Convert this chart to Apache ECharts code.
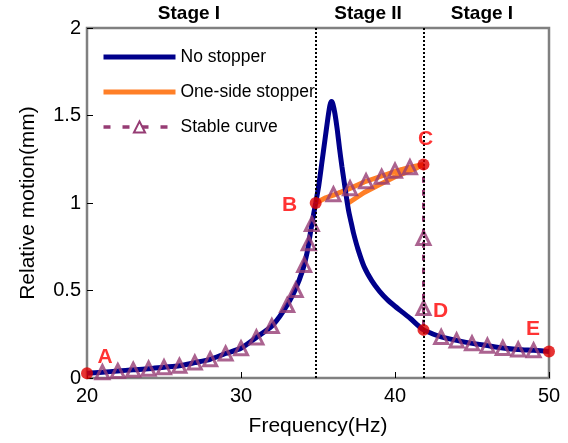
<!DOCTYPE html>
<html>
<head>
<meta charset="utf-8">
<script src="https://cdn.jsdelivr.net/npm/echarts@6/dist/echarts.min.js"></script>
<style>
  html, body { margin: 0; padding: 0; background: #fff; }
  #chart { width: 568px; height: 443px; }
</style>
</head>
<body>
<div id="chart"></div>
<script>
// Response without stopper (linear system)
const noStopperFreq = [20, 21, 22, 23, 24, 25, 26, 27, 28, 29, 30, 31, 32, 32.5, 33, 33.5, 34, 34.3, 34.6, 34.85,
  35.05, 35.25, 35.45, 35.65, 35.78, 35.88, 35.97, 36.1, 36.25, 36.4, 36.55, 36.7, 36.85, 37.0, 37.15, 37.3,
  37.6, 38, 38.5, 39, 39.5, 40, 40.5, 41, 41.5, 41.85, 42.5, 43, 44, 45, 46, 47, 48, 49, 50];
const noStopperAmp = [0.027, 0.033, 0.040, 0.047, 0.053, 0.062, 0.070, 0.088, 0.107, 0.140, 0.170, 0.232, 0.297, 0.35, 0.417, 0.50, 0.615, 0.72, 0.88, 1.0,
  1.10, 1.23, 1.36, 1.49, 1.56, 1.58, 1.565, 1.51, 1.42, 1.31, 1.21, 1.12, 1.03, 0.95, 0.89, 0.83,
  0.735, 0.635, 0.555, 0.495, 0.448, 0.41, 0.375, 0.34, 0.30, 0.275, 0.25, 0.235, 0.215, 0.198, 0.185, 0.172, 0.163, 0.158, 0.152];

// One-side stopper: upper branch B -> C, then the lower branch turning back
const stopperFreq = [34.85, 35.5, 36, 37, 38, 39, 40, 41, 41.85, 41.5, 41, 40, 39, 38, 36.97];
const stopperAmp  = [1.0, 1.03, 1.045, 1.08, 1.12, 1.15, 1.18, 1.205, 1.22, 1.205, 1.185, 1.15, 1.105, 1.06, 1.0];

// Stable curve A -> B -> C -> D -> E
const stableFreq = [20, 21, 22, 23, 24, 25, 26, 27, 28, 29, 30, 31, 32, 33, 33.55, 34.1, 34.4, 34.6, 34.85,
  36, 37.08, 38.12, 39.13, 40, 40.97, 41.85, 41.85, 41.85, 41.85, 43, 44, 45, 46, 47, 48, 49, 50];
const stableAmp = [0.027, 0.033, 0.040, 0.047, 0.053, 0.062, 0.070, 0.088, 0.107, 0.140, 0.170, 0.232, 0.297, 0.417, 0.503, 0.646, 0.77, 0.88, 1.0,
  1.05, 1.085, 1.125, 1.15, 1.185, 1.205, 1.22, 0.80, 0.40, 0.275, 0.235, 0.215, 0.198, 0.185, 0.172, 0.163, 0.158, 0.152];

// Characteristic points
const keyNames = ['A', 'B', 'C', 'D', 'E'];
const keyFreq  = [20, 34.85, 41.85, 41.85, 50];
const keyAmp   = [0.027, 1.0, 1.22, 0.275, 0.152];

// Stage boundaries (Hz)
const stageBounds = [34.85, 41.85];
const stageLabels = ['Stage I', 'Stage II', 'Stage I'];

// Axis ticks
const xTicks = { min: 20, max: 50, interval: 10 };
const yTicks = { min: 0, max: 2, interval: 0.5 };

const FONT = '"Liberation Sans", Arial, sans-serif';
const NAVY = '#00008B';
const ORANGE = '#FF7F27';
const PURPLE = '#963C74';
const RED = '#E00000';

const zip = (xs, ys) => xs.map((x, i) => [x, ys[i]]);
const noStopperData = zip(noStopperFreq, noStopperAmp);
const stopperData = zip(stopperFreq, stopperAmp);
const stableData = zip(stableFreq, stableAmp);

// letters sit beside their markers
const labelOffsets = { A: [18, -16], B: [-26, 2], C: [2, -25], D: [17, -19], E: [-16, -22] };
const keyData = keyNames.map((n, i) => ({
  name: n, value: [keyFreq[i], keyAmp[i]],
  label: { offset: labelOffsets[n] }
}));

// triangles are drawn everywhere except on the labelled points
const isKey = p => keyFreq.some((f, i) => f === p[0] && keyAmp[i] === p[1]);
const triangleData = stableData.filter(p => !isKey(p));

const chart = echarts.init(document.getElementById('chart'));
chart.setOption({
  animation: false,
  backgroundColor: '#fff',
  grid: { left: 87, right: 19, top: 28, bottom: 65, show: true, borderColor: '#808080', borderWidth: 2.5, backgroundColor: 'transparent' },
  legend: {
    orient: 'vertical', left: 96, top: 43,
    itemWidth: 72, itemHeight: 14, itemGap: 17,
    textStyle: { fontFamily: FONT, fontSize: 17.5, color: '#000' },
    data: [
      { name: 'No stopper', itemStyle: { opacity: 0 }, lineStyle: { width: 5 } },
      { name: 'One-side stopper', itemStyle: { opacity: 0 }, lineStyle: { width: 5 } },
      { name: 'Stable curve', lineStyle: { width: 3.5, type: [7, 12] } }
    ]
  },
  xAxis: {
    type: 'value', min: xTicks.min, max: xTicks.max, interval: xTicks.interval,
    name: 'Frequency(Hz)', nameLocation: 'middle', nameGap: 38,
    nameTextStyle: { fontFamily: FONT, fontSize: 21, color: '#000' },
    axisLine: { show: false },
    axisTick: { inside: true, length: 6, lineStyle: { color: '#000', width: 1 } },
    axisLabel: { fontFamily: FONT, fontSize: 20, color: '#000', margin: 8 },
    splitLine: { show: false }
  },
  yAxis: {
    type: 'value', min: yTicks.min, max: yTicks.max, interval: yTicks.interval,
    name: 'Relative motion(mm)', nameLocation: 'middle', nameGap: 48,
    nameTextStyle: { fontFamily: FONT, fontSize: 21, color: '#000' },
    axisLine: { show: false },
    axisTick: { inside: true, length: 6, lineStyle: { color: '#000', width: 1 } },
    axisLabel: { fontFamily: FONT, fontSize: 20, color: '#000', margin: 6 },
    splitLine: { show: false }
  },
  graphic: stageLabels.map((t, i) => ({
    type: 'text', x: [189, 368, 482][i], y: 14,
    style: { text: t, font: 'bold 19px ' + FONT, fill: '#000', align: 'center', verticalAlign: 'middle' }
  })),
  series: [
    {
      name: 'Stable curve', type: 'line', data: stableData, z: 1,
      showSymbol: false, symbol: 'triangle', symbolSize: 13,
      itemStyle: { color: '#fff', borderColor: PURPLE, borderWidth: 2.8 },
      lineStyle: { color: PURPLE, width: 3, type: [6, 7] }
    },
    {
      name: 'One-side stopper', type: 'line', data: stopperData, z: 2,
      symbol: 'none', lineStyle: { color: ORANGE, width: 5 }, itemStyle: { color: ORANGE }
    },
    {
      name: 'No stopper', type: 'line', data: noStopperData, z: 3, smooth: 0.2,
      symbol: 'none', lineStyle: { color: NAVY, width: 5 }, itemStyle: { color: NAVY },
      markLine: {
        silent: true, symbol: ['none', 'none'], label: { show: false },
        lineStyle: { color: '#000', type: 'dotted', width: 2 },
        data: stageBounds.map(x => ({ xAxis: x }))
      }
    },
    {
      type: 'scatter', data: triangleData, z: 4, symbol: 'triangle', symbolSize: 13,
      itemStyle: { color: 'rgba(255,255,255,0)', borderColor: PURPLE, borderWidth: 3 },
      silent: true
    },
    {
      type: 'scatter', data: keyData, z: 5, symbol: 'circle', symbolSize: 12, clip: false,
      itemStyle: { color: RED },
      label: {
        show: true, formatter: '{b}', position: 'inside',
        fontFamily: FONT, fontSize: 21, fontWeight: 'bold', color: '#FF0000',
        textBorderWidth: 0
      },
      silent: true
    }
  ]
});
</script>
</body>
</html>
